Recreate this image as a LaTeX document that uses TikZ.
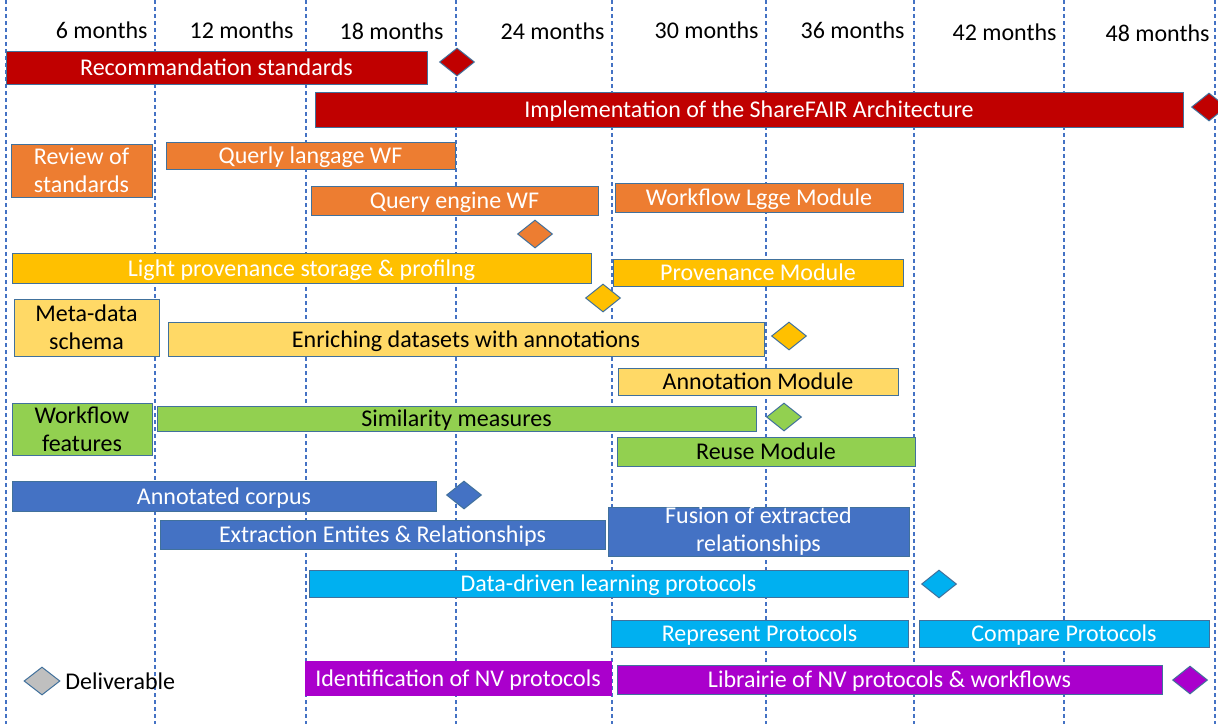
\documentclass[tikz,border=0pt]{standalone}
\usepackage{fontspec}
\setmainfont{Carlito}
\usetikzlibrary{shapes.geometric}
\definecolor{cRed}{HTML}{C00000}
\definecolor{cOrange}{HTML}{ED7D31}
\definecolor{cGold}{HTML}{FFC000}
\definecolor{cPale}{HTML}{FFD966}
\definecolor{cGreen}{HTML}{92D050}
\definecolor{cBlue}{HTML}{4472C4}
\definecolor{cCyan}{HTML}{00B0F0}
\definecolor{cPurple}{HTML}{AA00CC}
\definecolor{cEdge}{HTML}{41719C}
\definecolor{cGrey}{HTML}{BFBFBF}
\tikzset{
  grid line/.style={cBlue, line width=0.6pt, dash pattern=on 2.2pt off 1.3pt},
  taskbox/.style={draw=cEdge, line width=0.5pt, inner sep=0pt, outer sep=0pt,
    align=center, font=\fontsize{12}{14}\selectfont},
  oneline/.style={text height=8.2pt, text depth=0pt},
  light/.style={text=white},
  dark/.style={text=black},
  milestone/.style={diamond, draw=cEdge, line width=0.5pt, inner sep=0pt,
    minimum width=17.5pt, minimum height=14pt},
  month/.style={anchor=east, font=\fontsize{12}{14}\selectfont, inner sep=0pt},
}
% \task{name}{x1}{y1}{x2}{y2}{style}{text}
\newcommand\task[7]{%
  \pgfmathsetmacro\tw{(#4-#2)*0.5}%
  \pgfmathsetmacro\th{(#5-#3)*0.5}%
  \node[taskbox,#6,minimum width=\tw pt,minimum height=\th pt,anchor=north west] (#1) at (#2,#3) {#7};%
}
\begin{document}
\begin{tikzpicture}[x=0.5pt,y=-0.5pt]
\useasboundingbox (0,0) rectangle (1218,724);
\fill[white] (0,0) rectangle (1218,724);

% six-month grid
\foreach \gx [count=\i] in {6,155,306,456,612,766,914,1064,1215}
  \draw[grid line] (\gx,0) coordinate (top\i) -- (\gx,724) coordinate (bot\i);

\node[month] (m6)  at (148,30) {6 months};
\node[month] (m12) at (294,30) {12 months};
\node[month] (m18) at (444,31) {18 months};
\node[month] (m24) at (605,31) {24 months};
\node[month] (m30) at (759,30) {30 months};
\node[month] (m36) at (905,30) {36 months};
\node[month] (m42) at (1057,32) {42 months};
\node[month] (m48) at (1210,33) {48 months};

% architecture
\task{rec}{6}{51}{427}{84}{oneline,fill=cRed,light}{Recommandation standards}
\task{impl}{315}{92}{1183}{127}{oneline,fill=cRed,light}{Implementation of the ShareFAIR Architecture}
\node[milestone,fill=cRed] (drec) at (457,62) {};
\node[milestone,fill=cRed] (dimpl) at (1209,107) {};

% query language
\task{review}{11}{144}{152}{197}{fill=cOrange,light}{Review of\\standards}
\task{qlang}{166}{142}{455}{169}{oneline,fill=cOrange,light}{Querly langage WF}
\task{qeng}{311}{186}{598}{215}{oneline,fill=cOrange,light}{Query engine WF}
\task{wflgge}{615}{183}{903}{212}{oneline,fill=cOrange,light}{Workflow Lgge Module}
\node[milestone,fill=cOrange] (dq) at (535,234) {};

% provenance
\task{light}{12}{253}{591}{283}{oneline,fill=cGold,light}{Light provenance storage \& profilng}
\task{prov}{613}{259}{903}{286}{oneline,fill=cGold,light}{Provenance Module}
\node[milestone,fill=cGold] (dprov) at (603,298) {};

% annotations
\task{meta}{14}{299}{159}{356}{fill=cPale,dark}{Meta-data\\schema}
\task{enrich}{168}{322}{764}{356}{oneline,fill=cPale,dark}{Enriching datasets with annotations}
\task{annmod}{618}{368}{898}{395}{oneline,fill=cPale,dark}{Annotation Module}
\node[milestone,fill=cGold] (dann) at (789,336) {};

% reuse
\task{wffeat}{12}{403}{152}{455}{fill=cGreen,dark}{Workflow\\features}
\task{simil}{157}{406}{756}{431}{oneline,fill=cGreen,dark}{Similarity measures}
\task{reuse}{617}{437}{915}{466}{oneline,fill=cGreen,dark}{Reuse Module}
\node[milestone,fill=cGreen] (dsim) at (784,417) {};

% text mining
\task{corpus}{12}{481}{436}{511}{oneline,fill=cBlue,light}{Annotated corpus}
\task{extract}{160}{520}{605}{549}{oneline,fill=cBlue,light}{Extraction Entites \& Relationships}
\task{fusion}{608}{507}{909}{556}{fill=cBlue,light}{Fusion of extracted\\relationships}
\node[milestone,fill=cBlue] (dcorp) at (464,495) {};

% protocols
\task{ddl}{309}{570}{908}{597}{oneline,fill=cCyan,light}{Data-driven learning protocols}
\task{repr}{611}{620}{908}{647}{oneline,fill=cCyan,light}{Represent Protocols}
\task{comp}{919}{620}{1209}{647}{oneline,fill=cCyan,light}{Compare Protocols}
\node[milestone,fill=cCyan] (dddl) at (939,584) {};

% NV library
\task{ident}{305}{661}{611}{695}{oneline,fill=cPurple,draw=cPurple,light}{Identification of NV protocols}
\task{lib}{617}{665}{1162}{694}{oneline,fill=cPurple,light}{Librairie of NV protocols \& workflows}
\node[milestone,fill=cPurple] (dlib) at (1190,680) {};

% legend
\node[milestone,fill=cGrey,minimum width=18pt] (dleg) at (42,681) {};
\node[anchor=west, font=\fontsize{12}{14}\selectfont, inner sep=0pt] (leg) at (65,681) {Deliverable};
\end{tikzpicture}
\end{document}
